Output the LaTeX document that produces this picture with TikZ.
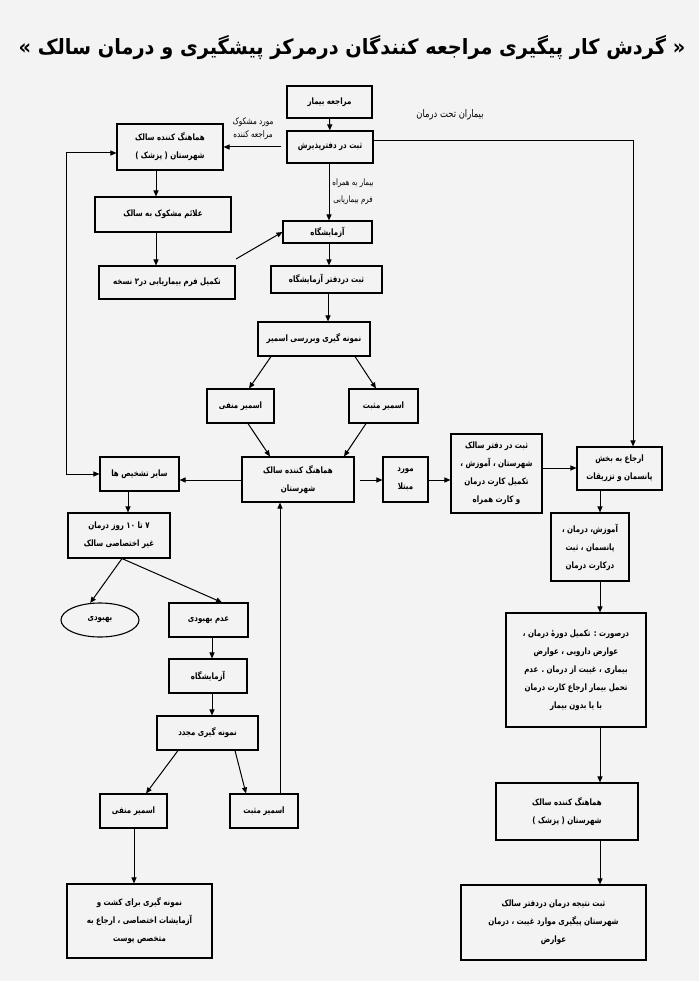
\documentclass[tikz,border=0pt]{standalone}
\usepackage{fontspec}
\usetikzlibrary{arrows.meta,shapes.geometric}
\TeXXeTstate=1
\newfontfamily\fafont[Script=Arabic, FakeStretch=0.8]{DejaVu Sans}
\newfontfamily\fatitle[Script=Arabic, FakeStretch=0.92]{DejaVu Sans}
\newcommand{\rl}[1]{\beginR #1\endR}
\definecolor{bgc}{HTML}{F3F3F3}
\begin{document}
\begin{tikzpicture}[x=1pt,y=-1pt,
  bx/.style={draw, line width=1.1pt, align=center, inner sep=0pt, font=\fafont\bfseries\fontsize{8.8}{18}\selectfont},
  lbl/.style={font=\fafont\fontsize{9}{13}\selectfont, align=center, inner sep=0pt},
  arr/.style={line width=1pt, -{Triangle[length=6pt,width=5pt]}},
  arrtwo/.style={line width=1pt, {Triangle[length=6pt,width=5pt]}-{Triangle[length=6pt,width=5pt]}}]
\fill[bgc] (0,0) rectangle (699,981);
% title
\node[font=\fatitle\bfseries\fontsize{21}{24}\selectfont, inner sep=0pt] (title) at (352,48)
  {\rl{« گردش کار پیگیری مراجعه کنندگان درمرکز پیشگیری و درمان سالک »}};
% boxes
\node[bx, minimum width=85pt, minimum height=32pt] (reg) at (329.5,102) {\rl{مراجعه بیمار}};
\node[bx, minimum width=86pt, minimum height=32pt] (adm) at (330,147) {\rl{ثبت در دفترپذیرش}};
\node[bx, minimum width=106pt, minimum height=46pt] (coordL) at (170,147) {\rl{هماهنگ کننده سالک}\\\rl{شهرستان ( پزشک )}};
\node[bx, minimum width=136pt, minimum height=35pt] (sym) at (163,214.5) {\rl{علائم مشکوک به سالک}};
\node[bx, minimum width=136pt, minimum height=33pt] (form) at (167,282.5) {\rl{تکمیل فرم بیماریابی در۲ نسخه}};
\node[bx, minimum width=89pt, minimum height=22pt] (lab1) at (327.5,232) {\rl{آزمایشگاه}};
\node[bx, minimum width=111pt, minimum height=27pt] (labreg) at (326.5,279.5) {\rl{ثبت دردفتر آزمایشگاه}};
\node[bx, minimum width=112pt, minimum height=34pt] (smear) at (314,339) {\rl{نمونه گیری وبررسی اسمیر}};
\node[bx, minimum width=67pt, minimum height=34pt] (neg1) at (240.5,406) {\rl{اسمیر منفی}};
\node[bx, minimum width=69pt, minimum height=34pt] (pos1) at (383.5,406) {\rl{اسمیر مثبت}};
\node[bx, minimum width=79pt, minimum height=34pt] (other) at (139.5,474) {\rl{سایر تشخیص ها}};
\node[bx, minimum width=112pt, minimum height=45pt] (coordM) at (298,479.5) {\rl{هماهنگ کننده سالک}\\\rl{شهرستان}};
\node[bx, minimum width=45pt, minimum height=45pt] (inf) at (405.5,479.5) {\rl{مورد}\\\rl{مبتلا}};
\node[bx, minimum width=91pt, minimum height=79pt] (rec) at (496.5,473.5) {\rl{ثبت در دفتر سالک}\\\rl{شهرستان ، آموزش ،}\\\rl{تکمیل کارت درمان}\\\rl{و کارت همراه}};
\node[bx, minimum width=85pt, minimum height=43pt] (ref) at (619.5,468.5) {\rl{ارجاع به بخش}\\\rl{پانسمان و تزریقات}};
\node[bx, minimum width=78pt, minimum height=68pt] (edu) at (590,547) {\rl{آموزش، درمان ،}\\\rl{پانسمان ، ثبت}\\\rl{درکارت درمان}};
\node[bx, minimum width=140pt, minimum height=114pt] (cond) at (576,670) {\rl{درصورت : تکمیل دورهٔ درمان ،}\\\rl{عوارض دارویی ، عوارض}\\\rl{بیماری ، غیبت از درمان . عدم}\\\rl{تحمل بیمار ارجاع کارت درمان}\\\rl{با یا بدون بیمار}};
\node[bx, minimum width=142pt, minimum height=57pt] (coordR) at (567,811.5) {\rl{هماهنگ کننده سالک}\\\rl{شهرستان ( پزشک )}};
\node[bx, minimum width=185pt, minimum height=75pt] (result) at (553.5,922.5) {\rl{ثبت نتیجه درمان دردفتر سالک}\\\rl{شهرستان پیگیری موارد غیبت ، درمان}\\\rl{عوارض}};
\node[bx, minimum width=102pt, minimum height=45pt] (days) at (119,535.5) {\rl{۷ تا ۱۰ روز درمان}\\\rl{غیر اختصاصی سالک}};
\node[bx, ellipse, minimum width=78pt, minimum height=34pt] (heal) at (100,620) {\rl{بهبودی}};
\node[bx, minimum width=79pt, minimum height=34pt] (noheal) at (208.5,620) {\rl{عدم بهبودی}};
\node[bx, minimum width=78pt, minimum height=34pt] (lab2) at (208,676) {\rl{آزمایشگاه}};
\node[bx, minimum width=101pt, minimum height=34pt] (resample) at (207.5,733) {\rl{نمونه گیری مجدد}};
\node[bx, minimum width=67pt, minimum height=34pt] (neg2) at (133.5,811) {\rl{اسمیر منفی}};
\node[bx, minimum width=68pt, minimum height=34pt] (pos2) at (264,811) {\rl{اسمیر مثبت}};
\node[bx, minimum width=145pt, minimum height=74pt] (culture) at (139.5,921) {\rl{نمونه گیری برای کشت و}\\\rl{آزمایشات اختصاصی ، ارجاع به}\\\rl{متخصص پوست}};
% labels
\node[lbl] (l1) at (253,128.5) {\rl{مورد مشکوک}\\\rl{مراجعه کننده}};
\node[lbl, font=\fafont\fontsize{10.5}{13}\selectfont] (l2) at (450,115) {\rl{بیماران تحت درمان}};
\node[lbl, font=\fafont\fontsize{8.8}{17}\selectfont] (l3) at (353,191.5) {\rl{بیمار به همراه}\\\rl{فرم بیماریابی}};
% helper coordinates
\foreach \xx in {66,122,128,134,146,156,178,212,222,235,246,248,249,270,271,280,328,329,344,355,366,376,600,633}
  {\coordinate (x\xx) at (\xx,0);}
\coordinate (y480) at (0,480);
\coordinate (y468) at (0,468);
\coordinate (fstart) at (236,259);
% connectors
\draw[arr] (reg) -- (adm);
\draw[arr, shorten <=5pt] (adm.west) -- (coordL.east);
\draw[arr] ([yshift=6pt]adm.east) -| (ref.north -| x633);
\draw[arr] (adm.south -| x329) -- (lab1.north -| x329);
\draw[arr] (lab1.south -| x329) -- (labreg.north -| x329);
\draw[arr] (labreg.south -| x328) -- (smear.north -| x328);
\draw[arr] (smear.south -| x271) -- (neg1.north -| x249);
\draw[arr] (smear.south -| x355) -- (pos1.north -| x376);
\draw[arr] (coordL.south -| x156) -- (sym.north -| x156);
\draw[arr] (sym.south -| x156) -- (form.north -| x156);
\draw[arr] (fstart) -- (lab1.west);
\draw[arrtwo] ([yshift=-6pt]coordL.west) -| (x66 |- other.west) -- (other.west);
\draw[arr] (neg1.south -| x248) -- (coordM.north -| x270);
\draw[arr] (pos1.south -| x366) -- (coordM.north -| x344);
\draw[arr] (coordM.west |- y480) -- (other.east |- y480);
\draw[arr, shorten <=5pt] (coordM.east |- y480) -- (inf.west |- y480);
\draw[arr] (inf.east |- y480) -- (rec.west |- y480);
\draw[arr] (rec.east |- y468) -- (ref.west |- y468);
\draw[arr] (ref.south -| x600) -- (edu.north -| x600);
\draw[arr] (edu.south -| x600) -- (cond.north -| x600);
\draw[arr] (cond.south -| x600) -- (coordR.north -| x600);
\draw[arr] (coordR.south -| x600) -- (result.north -| x600);
\draw[arr] (other.south -| x128) -- (days.north -| x128);
\draw[arr] (days.south -| x122) -- (heal.120);
\draw[arr] (days.south -| x122) -- (noheal.north -| x222);
\draw[arr] (noheal.south -| x212) -- (lab2.north -| x212);
\draw[arr] (lab2.south -| x212) -- (resample.north -| x212);
\draw[arr] (resample.south -| x178) -- (neg2.north -| x146);
\draw[arr] (resample.south -| x235) -- (pos2.north -| x246);
\draw[arr] (pos2.north -| x280) -- (coordM.south -| x280);
\draw[arr] (neg2.south -| x134) -- (culture.north -| x134);
\end{tikzpicture}
\end{document}
